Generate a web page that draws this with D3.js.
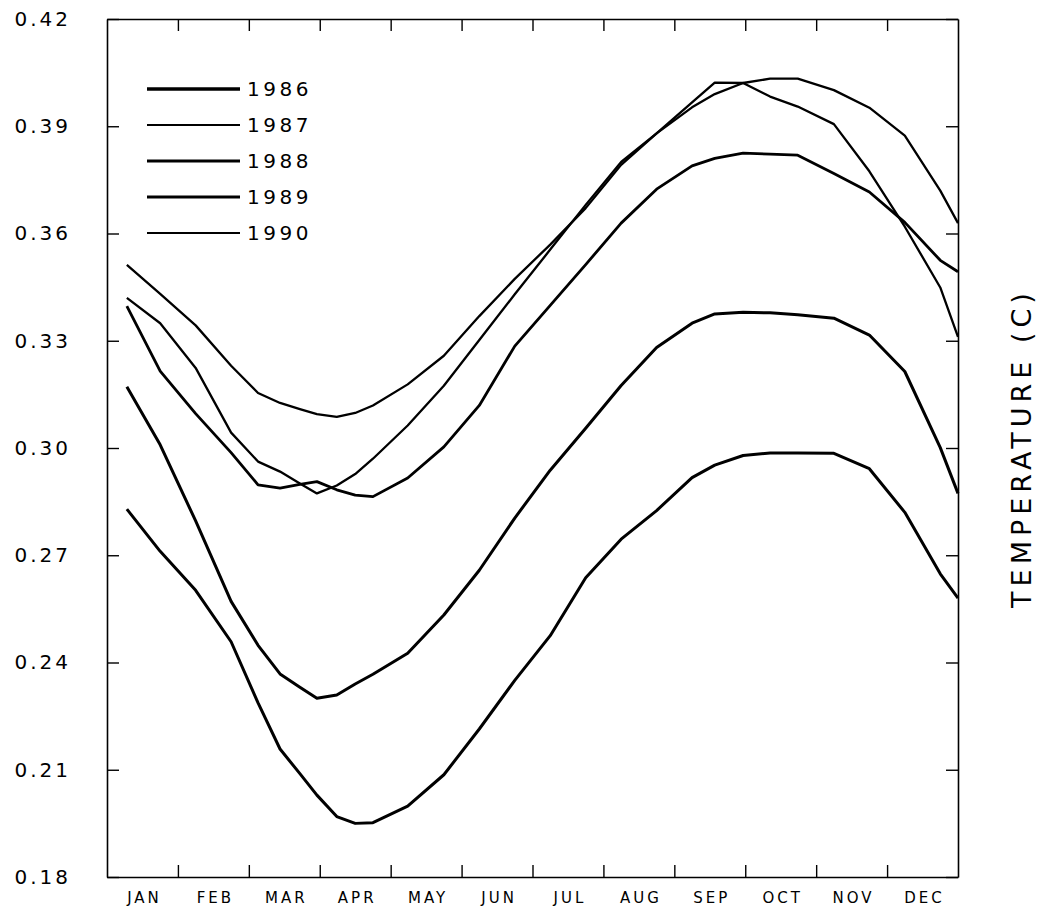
<!DOCTYPE html>
<html>
<head>
<meta charset="utf-8">
<script src="https://cdn.jsdelivr.net/npm/d3@7"></script>
<style>
	body { margin: 0; background: #fff; }
	svg { display: block; }
	text { font-family: "DejaVu Sans", sans-serif; fill: #000; }
</style>
</head>
<body>
<div class="container"></div>
<script>
// month position (0 = start of Jan, 12 = end of Dec)
var times = [0.28, 0.75, 1.25, 1.75, 2.13, 2.44, 2.72, 2.96, 3.24, 3.50, 3.75, 4.24, 4.75, 5.25, 5.75,
	6.25, 6.75, 7.25, 7.75, 8.25, 8.57, 8.97, 9.35, 9.74, 10.25, 10.75, 11.25, 11.75, 12.0];

var temp1986 = [0.2829, 0.2711, 0.2602, 0.2458, 0.2287, 0.2158, 0.2089, 0.2029, 0.1969, 0.1950, 0.1952, 0.1998, 0.2086, 0.2214, 0.2350,
	0.2475, 0.2637, 0.2745, 0.2825, 0.2917, 0.2952, 0.2979, 0.2986, 0.2986, 0.2985, 0.2942, 0.2820, 0.2648, 0.2580];
var temp1987 = [0.3420, 0.3349, 0.3224, 0.3043, 0.2962, 0.2934, 0.2901, 0.2873, 0.2895, 0.2927, 0.2970, 0.3063, 0.3174, 0.3302, 0.3430,
	0.3555, 0.3680, 0.3800, 0.3880, 0.3967, 0.4022, 0.4021, 0.3983, 0.3955, 0.3906, 0.3774, 0.3619, 0.3449, 0.3311];
var temp1988 = [0.3397, 0.3215, 0.3096, 0.2987, 0.2897, 0.2888, 0.2898, 0.2906, 0.2883, 0.2868, 0.2864, 0.2916, 0.3003, 0.3119, 0.3285,
	0.3399, 0.3513, 0.3629, 0.3724, 0.3789, 0.3810, 0.3825, 0.3822, 0.3819, 0.3768, 0.3716, 0.3631, 0.3525, 0.3493];
var temp1989 = [0.3171, 0.3009, 0.2796, 0.2571, 0.2448, 0.2368, 0.2331, 0.2300, 0.2309, 0.2340, 0.2367, 0.2426, 0.2533, 0.2658, 0.2804,
	0.2938, 0.3055, 0.3175, 0.3281, 0.3349, 0.3375, 0.3380, 0.3378, 0.3373, 0.3363, 0.3316, 0.3214, 0.3001, 0.2873];
var temp1990 = [0.3512, 0.3431, 0.3343, 0.3230, 0.3154, 0.3126, 0.3109, 0.3095, 0.3087, 0.3098, 0.3119, 0.3178, 0.3258, 0.3369, 0.3473,
	0.3569, 0.3671, 0.3792, 0.3880, 0.3953, 0.3990, 0.4021, 0.4033, 0.4033, 0.4001, 0.3952, 0.3874, 0.3720, 0.3629];

var years = ["1986", "1987", "1988", "1989", "1990"];
var legendWidths = [3.4, 1.9, 3.0, 3.2, 1.9];
var curveWidths = [3.0, 2.3, 2.8, 3.0, 2.3];
var monthLabels = ["JAN", "FEB", "MAR", "APR", "MAY", "JUN", "JUL", "AUG", "SEP", "OCT", "NOV", "DEC"];
var yTicks = [0.18, 0.21, 0.24, 0.27, 0.30, 0.33, 0.36, 0.39, 0.42];
var yTitle = "TEMPERATURE (C)";

(function() {
	var width = 1053, height = 920;
	var left = 107, right = 958, top = 19, bottom = 877;
	var tick = 12;

	var series = [temp1986, temp1987, temp1988, temp1989, temp1990].map(function(vals, i) {
		return {
			year: years[i],
			legendWidth: legendWidths[i],
			width: curveWidths[i],
			points: vals.map(function(v, j) { return {t: times[j], v: v}; })
		};
	});

	var svg = d3.select(".container").append("svg")
		.attr("width", width)
		.attr("height", height);

	var x = d3.scaleLinear().domain([0, 12]).range([left, right]);
	var y = d3.scaleLinear().domain([0.18, 0.42]).range([bottom, top]);

	var monthEdges = d3.range(1, 12);
	var monthMids = d3.range(12).map(function(i) { return i + 0.5; });

	// frame + inward ticks
	function styleAxis(g) {
		g.select(".domain").attr("stroke", "#000").attr("stroke-width", 1.6);
		g.selectAll(".tick line").attr("stroke", "#000").attr("stroke-width", 1.4);
	}

	svg.append("g")
		.attr("transform", "translate(0," + bottom + ")")
		.call(d3.axisBottom(x).tickValues(monthEdges).tickSizeInner(-tick).tickSizeOuter(0).tickFormat(""))
		.call(styleAxis);
	svg.append("g")
		.attr("transform", "translate(0," + top + ")")
		.call(d3.axisTop(x).tickValues(monthEdges).tickSizeInner(-tick).tickSizeOuter(0).tickFormat(""))
		.call(styleAxis);

	var yLeft = svg.append("g")
		.attr("transform", "translate(" + left + ",0)")
		.call(d3.axisLeft(y).tickValues(yTicks).tickSizeInner(-tick).tickSizeOuter(0).tickPadding(36).tickFormat(d3.format(".2f")))
		.call(styleAxis);
	yLeft.selectAll(".tick text")
		.attr("font-size", 20)
		.attr("letter-spacing", 3)
		.attr("font-family", "DejaVu Sans")
		.attr("fill", "#000");

	svg.append("g")
		.attr("transform", "translate(" + right + ",0)")
		.call(d3.axisRight(y).tickValues(yTicks).tickSizeInner(-tick).tickSizeOuter(0).tickFormat(""))
		.call(styleAxis);

	// month names centred between the ticks
	var mAxis = svg.append("g")
		.attr("transform", "translate(0," + bottom + ")")
		.call(d3.axisBottom(x).tickValues(monthMids).tickSize(0).tickPadding(15).tickFormat(function(d, i) { return monthLabels[i]; }));
	mAxis.select(".domain").remove();
	mAxis.selectAll(".tick text")
		.attr("font-size", 15)
		.attr("letter-spacing", 3)
		.attr("dx", 1.5)
		.attr("font-family", "DejaVu Sans")
		.attr("fill", "#000");

	// curves
	var line = d3.line()
		.x(function(d) { return x(d.t); })
		.y(function(d) { return y(d.v); });

	svg.append("g").selectAll("path")
		.data(series)
		.enter().append("path")
		.attr("d", function(d) { return line(d.points); })
		.attr("fill", "none")
		.attr("stroke", "#000")
		.attr("stroke-width", function(d) { return d.width; })
		.attr("stroke-linejoin", "round");

	// legend
	var legend = svg.append("g").selectAll("g")
		.data(series)
		.enter().append("g")
		.attr("transform", function(d, i) { return "translate(0," + (89 + i * 36) + ")"; });
	legend.append("line")
		.attr("x1", 147).attr("x2", 240)
		.attr("stroke", "#000")
		.attr("stroke-width", function(d) { return d.legendWidth; });
	legend.append("text")
		.attr("x", 247)
		.attr("dy", "0.36em")
		.attr("font-size", 20)
		.attr("letter-spacing", 3.5)
		.text(function(d) { return d.year; });

	// axis title on the right
	svg.append("text")
		.attr("transform", "translate(1021,448) rotate(-90)")
		.attr("text-anchor", "middle")
		.attr("dy", "0.36em")
		.attr("font-size", 27)
		.attr("letter-spacing", 5)
		.text(yTitle);
})();
</script>
</body>
</html>
